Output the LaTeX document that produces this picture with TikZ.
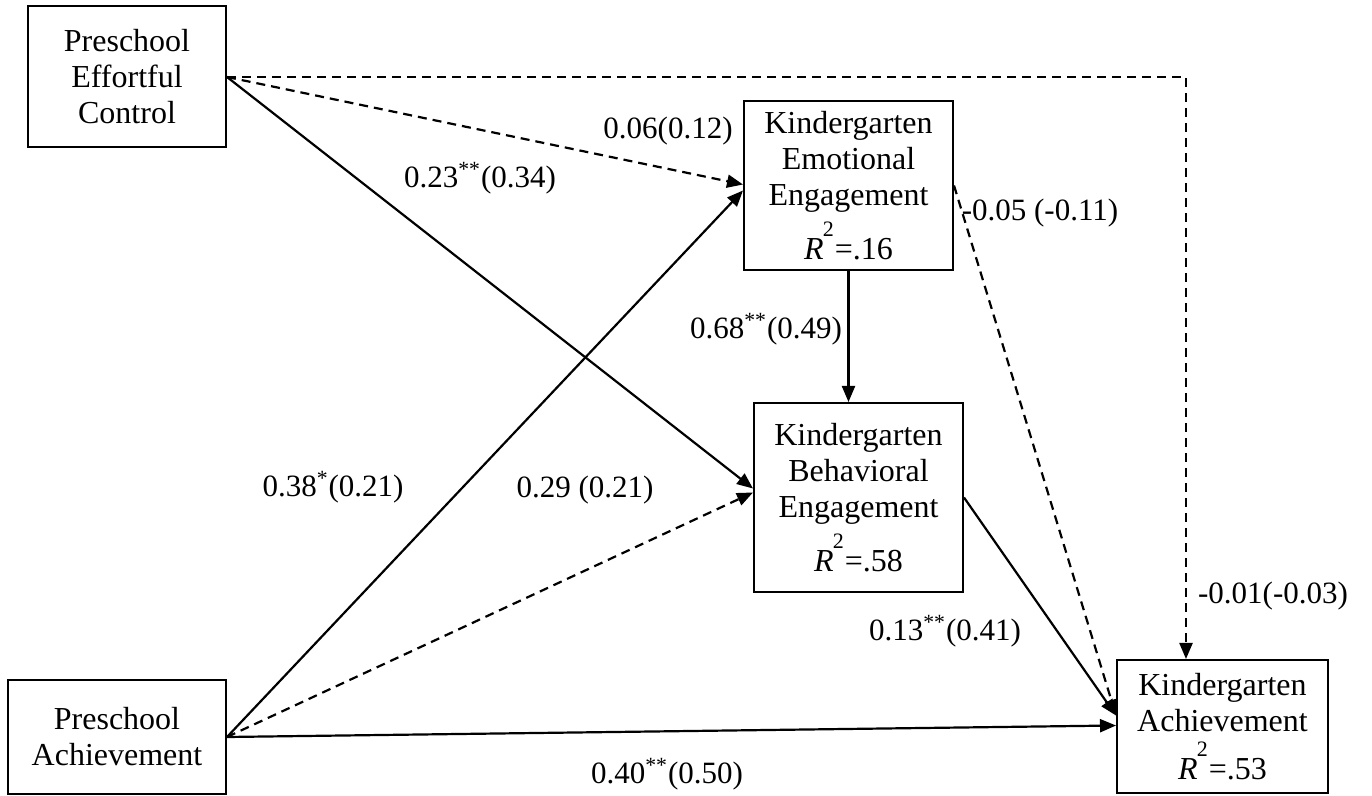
\documentclass[tikz,border=0pt]{standalone}
\usepackage{fontspec}
\setmainfont{Liberation Serif}
\usetikzlibrary{arrows.meta,calc}
\newcommand{\sg}[1]{\textsuperscript{#1}}
\newcommand{\rsq}[1]{\textit{R}\kern-0.5pt\raisebox{0.7em}{\fontsize{11}{11}\selectfont 2}\kern0.5pt=.#1}
\begin{document}
\begin{tikzpicture}[x=0.5pt,y=-0.5pt,
  box/.style={draw,line width=1pt,align=center,inner sep=0pt,font=\fontsize{16}{18}\selectfont},
  lbl/.style={font=\fontsize{15.5}{18}\selectfont,inner sep=0pt},
  conn/.style={line width=1.1pt,-{Triangle[length=8pt,width=6.5pt]}},
  dsh/.style={conn,dash pattern=on 4.5pt off 3pt}]
\useasboundingbox (0,0) rectangle (1372,796);
\node[box,minimum width=99pt,minimum height=70.5pt] (pec) at (127,77) {Preschool\\Effortful\\Control};
\node[box,minimum width=109pt,minimum height=57pt] (pa) at (117,737) {Preschool\\Achievement};
\node[box,minimum width=104.5pt,minimum height=84.5pt] (emo) at (848.5,185.5) {Kindergarten\\Emotional\\Engagement\\[4pt]\rsq{16}};
\node[box,minimum width=104.5pt,minimum height=94.5pt] (beh) at (858.5,497.5) {Kindergarten\\Behavioral\\Engagement\\[4pt]\rsq{58}};
\node[box,minimum width=105.5pt,minimum height=66.5pt] (ach) at (1222.5,726.5) {Kindergarten\\Achievement\\[4pt]\rsq{53}};

\draw[dsh] (pec.east) -- ($(emo.west)+(0,-1)$);
\draw[conn] (pec.east) -- ($(beh.west)+(0,-9)$);
\draw[dsh] (pec.east) -| ($(ach.north)+(-36.5,0)$);
\draw[conn] (pa.east) -- ($(emo.west)+(0,5)$);
\draw[dsh] (pa.east) -- ($(beh.west)+(0,-5)$);
\draw[conn] (pa.east) -- ($(ach.west)+(0,-1)$);
\draw[conn] (emo.south) -- (emo.south |- beh.north);
\draw[dsh] (emo.east) -- ($(ach.west)+(0,-11)$);
\draw[conn] (beh.east) -- ($(ach.west)+(0,-11)$);

\node[lbl] (l1) at (668,131) {0.06(0.12)};
\node[lbl] (l2) at (480,178) {0.23\sg{**}(0.34)};
\node[lbl] (l3) at (1040,213) {-0.05 (-0.11)};
\node[lbl] (l4) at (766,329) {0.68\sg{**}(0.49)};
\node[lbl] (l5) at (333,487) {0.38\sg{*}(0.21)};
\node[lbl] (l6) at (585,490) {0.29 (0.21)};
\node[lbl] (l7) at (945,631) {0.13\sg{**}(0.41)};
\node[lbl] (l8) at (1273,596) {-0.01(-0.03)};
\node[lbl] (l9) at (667,774) {0.40\sg{**}(0.50)};
\end{tikzpicture}
\end{document}
